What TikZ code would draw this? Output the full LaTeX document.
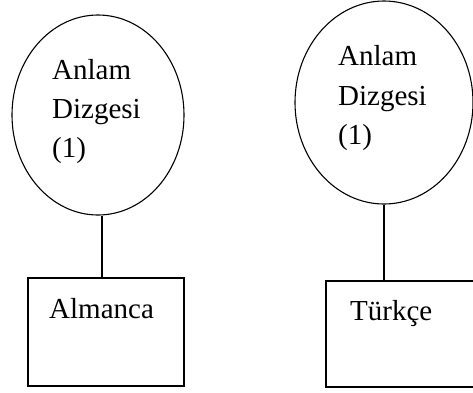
\documentclass[tikz,border=0pt]{standalone}
\usepackage{fontspec}
\setmainfont{Liberation Serif}
\usetikzlibrary{shapes.geometric}
\begin{document}
\begin{tikzpicture}[x=1pt,y=-1pt,
  shape line/.style={draw=black,line width=1.1pt},
  ell/.style={shape line,ellipse,inner sep=0pt},
  box/.style={shape line,rectangle,inner sep=0pt},
  lbl/.style={anchor=base west,inner sep=0pt,font=\fontsize{29}{39}\selectfont}]
\useasboundingbox (0,0) rectangle (473,392);
\clip (0,0) rectangle (473,392);
% left group
\node[ell,minimum width=172pt,minimum height=200pt] (e1) at (98,115) {};
\node[box,minimum width=156pt,minimum height=108pt] (r1) at (106,332) {};
\coordinate (l1) at (102,0);
\draw[shape line] (e1.south -| l1) -- (r1.north -| l1);
\node[lbl] (t1a) at (52,79) {Anlam};
\node[lbl] (t1b) at (52,118) {Dizgesi};
\node[lbl] (t1c) at (52,157) {(1)};
\node[lbl] (t1d) at (49,318) {Almanca};
% right group
\node[ell,minimum width=178pt,minimum height=203pt] (e2) at (384,102.5) {};
\node[box,minimum width=160pt,minimum height=106pt] (r2) at (406,334) {};
\draw[shape line] (e2.south) -- (e2.south |- r2.north);
\node[lbl] (t2a) at (338,65) {Anlam};
\node[lbl] (t2b) at (338,105) {Dizgesi};
\node[lbl] (t2c) at (338,144) {(1)};
\node[lbl] (t2d) at (350,320) {Türkçe};
\end{tikzpicture}
\end{document}
